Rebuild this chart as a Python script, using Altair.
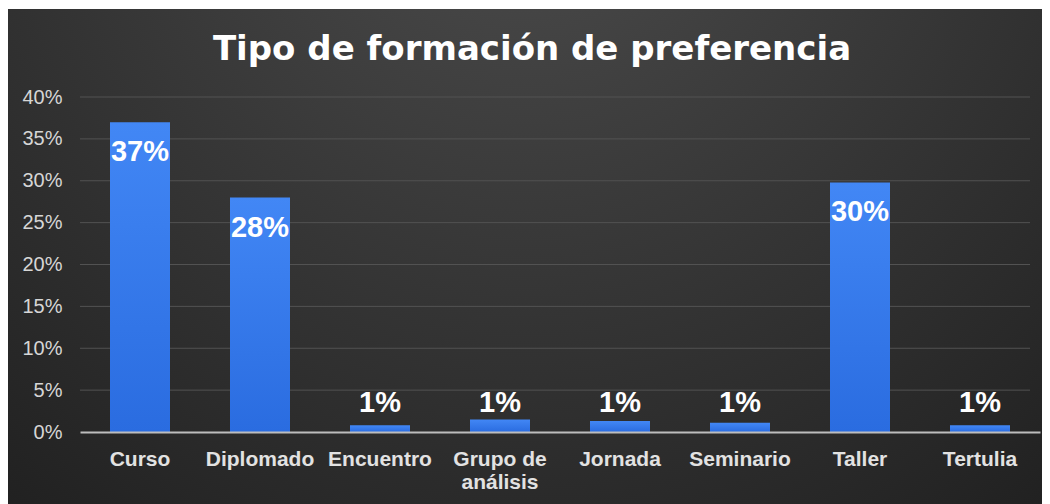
import altair as alt
import pandas as pd

categories = ["Curso", "Diplomado", "Encuentro", "Grupo de análisis",
              "Jornada", "Seminario", "Taller", "Tertulia"]
values = [0.37, 0.28, 0.008, 0.015, 0.013, 0.011, 0.298, 0.008]
value_labels = ["37%", "28%", "1%", "1%", "1%", "1%", "30%", "1%"]
y_ticks = [0, 0.05, 0.10, 0.15, 0.20, 0.25, 0.30, 0.35, 0.40]
title_text = ["Tipo de formación de preferencia"]

df = pd.DataFrame({"cat": categories, "value": values, "label": value_labels})
grid_df = pd.DataFrame({"tick": y_ticks})
bg_df = pd.DataFrame({"a": [0]})
title_df = pd.DataFrame({"t": title_text})

FONT = "Liberation Sans"
W, H = 960, 335
PAD = {"left": 72, "top": 89, "right": 2, "bottom": 72}

x_enc = alt.X("cat:N", sort=categories,
              scale=alt.Scale(paddingInner=0.5, paddingOuter=0.25),
              axis=alt.Axis(title=None, labelAngle=0, labelFont=FONT,
                            labelFontSize=21, labelFontWeight="bold",
                            labelColor="#e2e2e2", labelPadding=16,
                            labelLimit=300, labelLineHeight=23,
                            labelExpr="datum.label == 'Grupo de análisis' ? ['Grupo de', 'análisis'] : datum.label",
                            ticks=False, domainColor="#bdbdbd", domainWidth=2,
                            grid=False, zindex=1))
y_scale = alt.Scale(domain=[0, 0.4], nice=False)
y_enc = alt.Y("value:Q", scale=y_scale,
              axis=alt.Axis(title=None, values=y_ticks, format=".0%",
                            labelFont=FONT, labelFontSize=20,
                            labelColor="#d6d6d6", labelPadding=18,
                            ticks=False, domain=False, grid=False, zindex=1))

bg = alt.Chart(bg_df).mark_rect(
    color=alt.Gradient(
        gradient="radial",
        stops=[alt.GradientStop(color="#4d4d4d", offset=0),
               alt.GradientStop(color="#363636", offset=0.5),
               alt.GradientStop(color="#1f1f1f", offset=1)],
        x1=0.5, y1=0.1, r1=0, x2=0.5, y2=0.1, r2=0.85)
).encode(x=alt.value(-PAD["left"]), x2=alt.value(W + PAD["right"]),
         y=alt.value(-PAD["top"] + 1), y2=alt.value(H + PAD["bottom"]))

title = alt.Chart(title_df).mark_text(
    font="DejaVu Sans", fontSize=34, fontWeight="bold", color="white",
    align="center", baseline="alphabetic"
).encode(x=alt.value(452), y=alt.value(-37), text="t:N")

grid = alt.Chart(grid_df).transform_filter("datum.tick > 0").mark_rule(
    color="#525252", strokeWidth=1
).encode(y=alt.Y("tick:Q", scale=y_scale), x=alt.value(0), x2=alt.value(950))

bars = alt.Chart(df).mark_bar(
    color=alt.Gradient(
        gradient="linear",
        stops=[alt.GradientStop(color="#4287f5", offset=0),
               alt.GradientStop(color="#2a6ce0", offset=1)],
        x1=0, x2=0, y1=0, y2=1)
).encode(x=x_enc, y=y_enc)

text_in = alt.Chart(df).transform_filter("datum.value > 0.1").mark_text(
    font=FONT, fontSize=29, fontWeight="bold", color="white",
    baseline="middle", dy=30
).encode(x=alt.X("cat:N", sort=categories), y=alt.Y("value:Q", scale=y_scale),
         text="label:N")

text_out = alt.Chart(df).transform_filter("datum.value <= 0.1").transform_calculate(
    anchor="max(datum.value, 0.015)"
).mark_text(
    font=FONT, fontSize=29, fontWeight="bold", color="white",
    baseline="middle", dy=-16
).encode(x=alt.X("cat:N", sort=categories), y=alt.Y("anchor:Q", scale=y_scale),
         text="label:N")

chart = alt.layer(bg, title, grid, bars, text_in, text_out).properties(
    width=W, height=H,
    autosize=alt.AutoSizeParams(type="none"),
    padding=PAD,
    background="white"
).configure_view(stroke=None)

chart.save("out.html", embed_options={"renderer": "svg", "actions": False})
